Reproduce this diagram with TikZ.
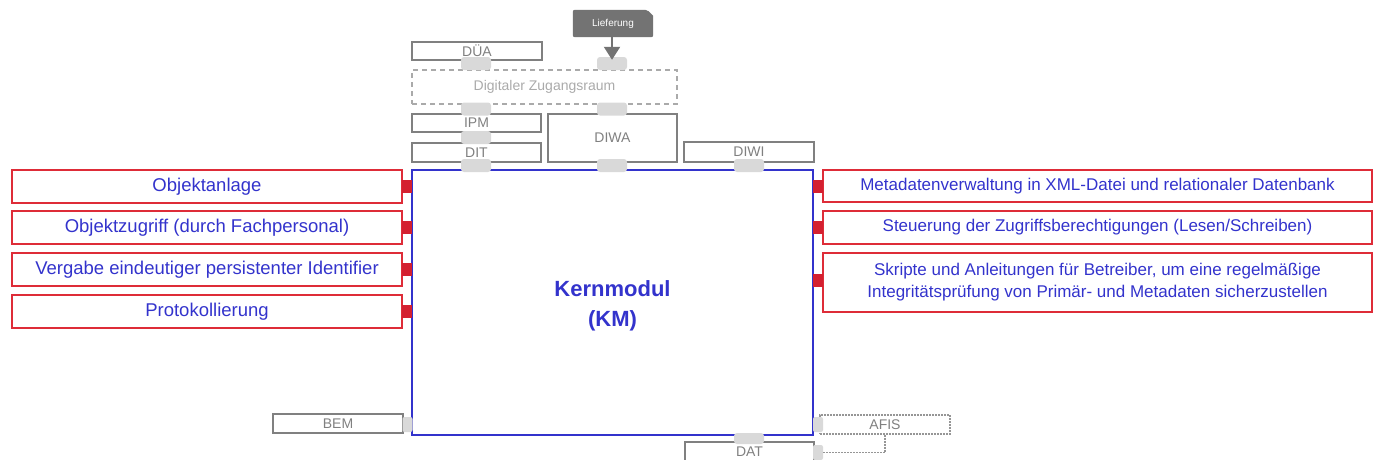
\documentclass[tikz,border=0pt]{standalone}
\usepackage{fontspec}
\setmainfont{Liberation Sans}
\usetikzlibrary{arrows.meta, backgrounds}

\definecolor{kmblue}{RGB}{51,51,204}
\definecolor{boxred}{RGB}{222,44,56}
\definecolor{portred}{RGB}{212,32,48}
\definecolor{boxgrey}{RGB}{128,128,128}
\definecolor{lightgrey}{RGB}{170,170,170}
\definecolor{dotgrey}{RGB}{150,150,150}
\definecolor{portgrey}{RGB}{217,217,217}
\definecolor{liefgrey}{RGB}{115,115,115}

\begin{document}
\begin{tikzpicture}[
    x=1pt, y=-1pt, % pixel grid, y pointing down
    >=Latex, % Set default arrow tip style
    kmbox/.style={draw=kmblue, line width=1.4pt}, % Style for the core module
    kmtext/.style={text=kmblue, align=center,
        font=\bfseries\fontsize{22}{30}\selectfont}, % Style for its label
    lbox/.style={draw=boxred, line width=1.5pt, text=kmblue, inner sep=0pt,
        minimum width=390pt, minimum height=33pt,
        font=\fontsize{18.5}{22}\selectfont}, % Style for left function boxes
    rbox/.style={draw=boxred, line width=1.5pt, text=kmblue, inner sep=0pt,
        minimum width=549pt, minimum height=32pt, align=center,
        font=\fontsize{17}{22}\selectfont}, % Style for right function boxes
    gbox/.style={draw=boxgrey, line width=1.5pt, text=boxgrey, inner sep=0pt,
        minimum width=130pt, minimum height=19pt,
        font=\fontsize{14}{16}\selectfont}, % Style for neighbour modules
    hport/.style={fill=portgrey, rounded corners=3pt, inner sep=0pt,
        minimum width=30pt, minimum height=13pt}, % Style for horizontal ports
    vport/.style={fill=portgrey, rounded corners=2pt, inner sep=0pt,
        minimum width=10pt, minimum height=15pt}, % Style for vertical ports
    rport/.style={fill=portred, inner sep=0pt,
        minimum width=10pt, minimum height=13pt}, % Style for red ports
    dotline/.style={draw=dotgrey, line width=1.8pt,
        dash pattern=on 1.8pt off 1.2pt} % Style for dotted outlines
]
    \useasboundingbox (0,0) rectangle (1373,459);

    % Core module
    \node[kmbox, minimum width=401pt, minimum height=265pt] (km) at (612.5,302.5) {};
    \node[kmtext] (kmlabel) at (612.5,306) {Kernmodul\\(KM)};

    % Left function boxes
    \node[lbox] (anlage) at (207,186.5) {Objektanlage};
    \node[lbox] (zugriff) at (207,227.5) {Objektzugriff (durch Fachpersonal)};
    \node[lbox] (vergabe) at (207,269.5) {Vergabe eindeutiger persistenter Identifier};
    \node[lbox] (protokoll) at (207,311.5) {Protokollierung};
    \foreach \y/\n in {186.5/a, 227.5/b, 269.5/c, 311.5/d}
        \node[rport] (lp\n) at (407,\y) {};

    % Right function boxes
    \node[rbox] (meta) at (1097.5,186) {Metadatenverwaltung in XML-Datei und relationaler Datenbank};
    \node[rbox, minimum height=33pt] (steuer) at (1097.5,227.5) {Steuerung der Zugriffsberechtigungen (Lesen/Schreiben)};
    \node[rbox, minimum height=59pt] (skript) at (1097.5,282.5) {Skripte und Anleitungen f\"ur Betreiber, um eine regelm\"a\ss ige\\Integrit\"atspr\"ufung von Prim\"ar- und Metadaten sicherzustellen};
    \foreach \y/\n in {186/a, 227.5/b, 280.5/c}
        \node[rport] (rp\n) at (818,\y) {};

    % Modules above
    \node[gbox, minimum height=18pt] (dua) at (477,51) {D\"UA};
    \node[draw=lightgrey, line width=1.5pt, dash pattern=on 5pt off 4pt, text=lightgrey,
        minimum width=265pt, minimum height=34pt, inner sep=0pt,
        font=\fontsize{14}{16}\selectfont] (dzr) at (544.5,87) {Digitaler Zugangsraum};
    \node[gbox, minimum width=129pt, minimum height=18pt] (ipm) at (476.5,123) {IPM};
    \node[gbox, minimum width=129pt] (dit) at (476.5,152.5) {DIT};
    \node[gbox, minimum width=129pt, minimum height=48pt] (diwa) at (612.5,138) {DIWA};
    \node[gbox, minimum height=20pt] (diwi) at (749,152) {DIWI};

    % Delivery
    \node[text=white, inner sep=0pt, minimum width=80pt, minimum height=27pt,
        font=\fontsize{10}{12}\selectfont] (lief) at (613,23.5) {Lieferung};
    \begin{scope}[on background layer]
        \fill[liefgrey, rounded corners=2pt] (lief.south west) -- (lief.north west)
            -- ([xshift=-6pt]lief.north east) [sharp corners] -- ([yshift=-6pt]lief.north east)
            [rounded corners=2pt] -- (lief.south east) -- cycle;
    \end{scope}

    % Ports on top
    \foreach \y/\n in {63.5/a, 109/b, 137.5/c, 165.5/d}
        \node[hport] (tl\n) at (476,\y) {};
    \foreach \y/\n in {63.5/a, 109/b, 165.5/d}
        \node[hport] (tr\n) at (612,\y) {};
    \node[hport] (pdiwi) at (749,165.5) {};

    \draw[liefgrey, line width=2pt, -{Triangle[width=16pt,length=13pt]}] (lief.south -| tra) -- ([yshift=-3pt]tra.north);

    % Modules below
    \node[gbox] (bem) at (338,423.5) {BEM};
    \node[vport] (pbem) at (407.5,424.5) {};
    \node[dotline, text=boxgrey, inner sep=0pt, minimum width=130pt, minimum height=19pt,
        font=\fontsize{14}{16}\selectfont] (afis) at (885,424.5) {AFIS};
    \node[vport] (pafis) at (818,424.5) {};
    \node[gbox, minimum width=129pt, minimum height=20pt] (dat) at (749.5,452) {DAT};
    \node[hport, minimum height=11pt] (pdat) at (749,438.5) {};
    \node[vport] (pdatr) at (818,452.5) {};
    \draw[dotline] (afis.south) -- (afis.south |- pdatr) -- (pdatr.east);

\end{tikzpicture}
\end{document}
